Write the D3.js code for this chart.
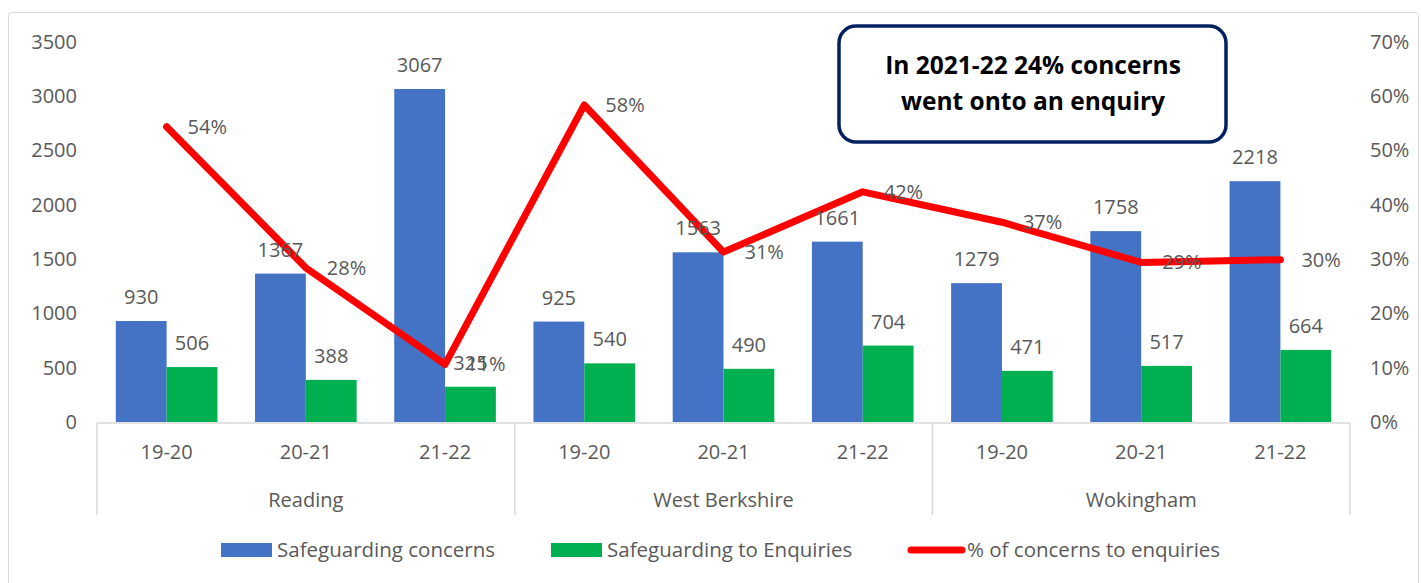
<!DOCTYPE html>
<html>
<head>
<meta charset="utf-8">
<script src="https://cdn.jsdelivr.net/npm/d3@7"></script>
<style>
  body { margin: 0; background: #fff; }
  text { font-family: "Open Sans", "Noto Sans", sans-serif; }
</style>
</head>
<body>
<svg id="chart" width="1421" height="583"></svg>
<script>
// data
const groups = ["Reading", "West Berkshire", "Wokingham"];
const years = ["19-20", "20-21", "21-22"];
const concerns = [930, 1367, 3067, 925, 1563, 1661, 1279, 1758, 2218];
const enquiries = [506, 388, 325, 540, 490, 704, 471, 517, 664];
const pctRates = [0.544, 0.284, 0.106, 0.584, 0.313, 0.424, 0.368, 0.294, 0.299];
const leftTicks = [0, 500, 1000, 1500, 2000, 2500, 3000, 3500];
const rightTicks = [0, 0.1, 0.2, 0.3, 0.4, 0.5, 0.6, 0.7];
const seriesNames = ["Safeguarding concerns", "Safeguarding to Enquiries", "% of concerns to enquiries"];
const noteLines = ["In 2021-22 24% concerns", "went onto an enquiry"];

const blue = "#4472C4", green = "#00B050", red = "#FF0000", grey = "#595959";

let margin = { top: 42, left: 97, right: 1350, bottom: 422 };
let svg = d3.select("#chart");

// chart frame
svg.append("rect")
  .attr("x", 8.5).attr("y", 12.5)
  .attr("width", 1410).attr("height", 575)
  .attr("rx", 3)
  .attr("fill", "#fff")
  .attr("stroke", "#d9d9d9");

let keys = [];
groups.forEach(g => years.forEach(y => keys.push(g + "|" + y)));

let x0 = d3.scaleBand().domain(keys).range([margin.left, margin.right]).padding(0);
let x1 = d3.scaleBand().domain(["c", "e"]).range([0, x0.bandwidth()]).paddingInner(0).paddingOuter(0.37);
let y = d3.scaleLinear().domain([0, 3500]).range([margin.bottom, margin.top]);
let y2 = d3.scaleLinear().domain([0, 0.7]).range([margin.bottom, margin.top]);

// left axis
let yAxis = d3.axisLeft(y).tickValues(leftTicks).tickFormat(d3.format("d")).tickSize(0).tickPadding(0);
let gy = svg.append("g").attr("transform", "translate(77,0)").call(yAxis);
gy.select(".domain").remove();
gy.selectAll("text").attr("fill", grey).style("font-size", "20px").style("font-family", "Open Sans");

// right axis
let y2Axis = d3.axisRight(y2).tickValues(rightTicks).tickFormat(d3.format(".0%")).tickSize(0).tickPadding(0);
let gy2 = svg.append("g").attr("transform", "translate(1370,0)").call(y2Axis);
gy2.select(".domain").remove();
gy2.selectAll("text").attr("fill", grey).style("font-size", "20px").style("font-family", "Open Sans");

// bars
let rows = keys.map((k, i) => ({ key: k, c: concerns[i], e: enquiries[i], p: pctRates[i] }));

svg.append("g").selectAll("rect.conc")
  .data(rows).enter().append("rect")
  .attr("class", "conc")
  .attr("x", d => x0(d.key) + x1("c"))
  .attr("y", d => y(d.c))
  .attr("width", x1.bandwidth())
  .attr("height", d => y(0) - y(d.c))
  .attr("fill", blue);

svg.append("g").selectAll("rect.enq")
  .data(rows).enter().append("rect")
  .attr("class", "enq")
  .attr("x", d => x0(d.key) + x1("e"))
  .attr("y", d => y(d.e))
  .attr("width", x1.bandwidth())
  .attr("height", d => y(0) - y(d.e))
  .attr("fill", green);

// category axis line + group separators
let axisG = svg.append("g").attr("stroke", "#d9d9d9").attr("stroke-width", 1.5);
axisG.append("line")
  .attr("x1", margin.left).attr("x2", margin.right)
  .attr("y1", margin.bottom + 1).attr("y2", margin.bottom + 1);
d3.range(groups.length + 1).forEach(i => {
  let xx = margin.left + i * 3 * x0.step();
  axisG.append("line")
    .attr("x1", xx).attr("x2", xx)
    .attr("y1", margin.bottom + 1).attr("y2", 515);
});

// year labels
svg.append("g").selectAll("text")
  .data(rows).enter().append("text")
  .attr("x", d => x0(d.key) + x0.bandwidth() / 2)
  .attr("y", 459)
  .attr("text-anchor", "middle")
  .attr("fill", grey)
  .style("font-size", "20px")
  .text(d => d.key.split("|")[1]);

// group labels
svg.append("g").selectAll("text")
  .data(groups).enter().append("text")
  .attr("x", (g, i) => margin.left + (i * 3 + 1.5) * x0.step())
  .attr("y", 507)
  .attr("text-anchor", "middle")
  .attr("fill", grey)
  .style("font-size", "20px")
  .text(g => g);

// % line
let line = d3.line()
  .x(d => x0(d.key) + x0.bandwidth() / 2)
  .y(d => y2(d.p));
svg.append("path")
  .datum(rows)
  .attr("d", line)
  .attr("fill", "none")
  .attr("stroke", red)
  .attr("stroke-width", 7)
  .attr("stroke-linejoin", "round")
  .attr("stroke-linecap", "round");

// bar value labels
let labG = svg.append("g").attr("fill", grey).style("font-size", "20px").attr("text-anchor", "middle");
rows.forEach(d => {
  labG.append("text")
    .attr("x", x0(d.key) + x1("c") + x1.bandwidth() / 2)
    .attr("y", y(d.c) - 17)
    .text(d.c);
  labG.append("text")
    .attr("x", x0(d.key) + x1("e") + x1.bandwidth() / 2)
    .attr("y", y(d.e) - 17)
    .text(d.e);
});

// % labels
svg.append("g").selectAll("text")
  .data(rows).enter().append("text")
  .attr("x", d => x0(d.key) + x0.bandwidth() / 2 + 21)
  .attr("y", d => y2(d.p) + 7)
  .attr("fill", grey)
  .style("font-size", "20px")
  .text(d => d3.format(".0%")(d.p));

// note box
svg.append("rect")
  .attr("x", 839).attr("y", 26)
  .attr("width", 387).attr("height", 116)
  .attr("rx", 17)
  .attr("fill", "#fff")
  .attr("stroke", "#002060")
  .attr("stroke-width", 3.5);
svg.append("g").selectAll("text")
  .data(noteLines).enter().append("text")
  .attr("x", 1033)
  .attr("y", (d, i) => 74 + i * 36)
  .attr("text-anchor", "middle")
  .attr("fill", "#000")
  .style("font-size", "24.5px")
  .style("font-weight", "bold")
  .text(d => d);

// legend
let legend = svg.append("g");
let legX = [221, 551, 908];
seriesNames.forEach((name, i) => {
  let g = legend.append("g").attr("transform", `translate(${legX[i]},550)`);
  if (i < 2) {
    g.append("rect").attr("x", 0).attr("y", -7).attr("width", 51).attr("height", 14)
      .attr("fill", i === 0 ? blue : green);
  } else {
    g.append("line").attr("x1", 3).attr("x2", 54).attr("y1", 0).attr("y2", 0)
      .attr("stroke", red).attr("stroke-width", 7).attr("stroke-linecap", "round");
  }
  g.append("text")
    .attr("x", i < 2 ? 56 : 59)
    .attr("y", 7)
    .attr("fill", grey)
    .style("font-size", "20.5px")
    .text(name);
});
</script>
</body>
</html>
